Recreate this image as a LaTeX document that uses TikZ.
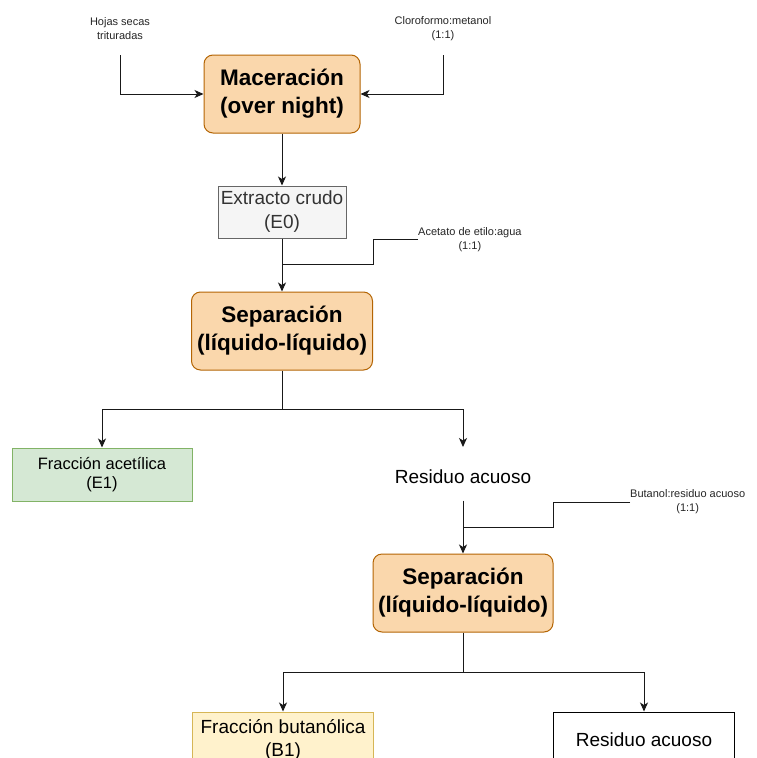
\documentclass[tikz,border=0pt]{standalone}
\usepackage{fontspec}
\setmainfont{Liberation Sans}
\usetikzlibrary{arrows.meta}
\definecolor{orfill}{HTML}{FAD7AC}
\definecolor{ordraw}{HTML}{B46504}
\definecolor{grfill}{HTML}{F5F5F5}
\definecolor{grdraw}{HTML}{666666}
\definecolor{grtext}{HTML}{333333}
\definecolor{gnfill}{HTML}{D5E8D4}
\definecolor{gndraw}{HTML}{82B366}
\definecolor{yefill}{HTML}{FFF2CC}
\definecolor{yedraw}{HTML}{D6B656}
\tikzset{
  proc/.style={draw=ordraw, fill=orfill, rounded corners=9pt, line width=1pt,
    minimum width=156pt, minimum height=78pt, align=center, inner sep=0pt,
    font=\fontsize{22.5}{28}\selectfont\bfseries},
  plainbox/.style={line width=1pt, align=center, inner sep=0pt},
  small/.style={align=center, inner sep=0pt, font=\fontsize{11}{14}\selectfont, text=black!85},
  conn/.style={line width=1pt, draw=black!90},
  arr/.style={conn, -{Stealth[length=9pt,width=8pt,inset=2.5pt]}},
}
\begin{document}
\begin{tikzpicture}[x=1pt,y=-1pt]
\clip (0,0) rectangle (757,758);
\fill[white] (0,0) rectangle (757,758);

% inputs
\node[small] (hojas) at (120,29) {Hojas secas\\trituradas};
\node[small] (cloro) at (443,29) {Cloroformo:metanol\\(1:1)};
\coordinate (hojasA) at (120,55);
\coordinate (cloroA) at (443,55);

\node[proc] (mac) at (282,94) {Maceración\\(over night)};

\node[plainbox, draw=grdraw, fill=grfill, text=grtext, minimum width=128pt, minimum height=52pt,
  font=\fontsize{19}{24}\selectfont] (ext) at (282,212) {Extracto crudo\\(E0)};

\node[small, anchor=west] (acet) at (418,239.5) {Acetato de etilo:agua\\(1:1)};

\node[proc, minimum width=181pt] (sep1) at (282,331) {Separación\\(líquido-líquido)};

\node[plainbox, draw=gndraw, fill=gnfill, minimum width=180pt, minimum height=53pt,
  font=\fontsize{16.5}{19}\selectfont] (facet) at (102,474.5) {Fracción acetílica\\(E1)};

\node[plainbox, font=\fontsize{19}{23}\selectfont, minimum height=46pt] (res1) at (463,477) {Residuo acuoso};

\node[small, anchor=west] (buta) at (630,502) {Butanol:residuo acuoso\\(1:1)};

\node[proc, minimum width=180pt] (sep2) at (463,593) {Separación\\(líquido-líquido)};

\node[plainbox, draw=yedraw, fill=yefill, minimum width=181pt, minimum height=55pt,
  font=\fontsize{19}{23}\selectfont] (fbut) at (283,739.5) {Fracción butanólica\\(B1)};

\node[plainbox, draw=black, fill=white, minimum width=181pt, minimum height=55pt,
  font=\fontsize{19}{23}\selectfont] (res2) at (644,739.5) {Residuo acuoso};

% connectors
\draw[arr] (hojasA) |- (mac.west);
\draw[arr] (cloroA) |- (mac.east);
\draw[arr] (mac.south) -- (ext.north);
\draw[arr] (ext.south) -- (sep1.north);
\coordinate (acJ) at (282,264);
\draw[conn] (acet.west) -- (373,239.5) -- (373,264) -- (acJ);

\coordinate (sp1) at (282,409);
\draw[conn] (sep1.south) -- (sp1);
\draw[arr] (sp1) -| (facet.north);
\draw[arr] (sp1) -| (463,447);

\draw[arr] (res1.south) -- (sep2.north);
\coordinate (buJ) at (463,527);
\draw[conn] (buta.west) -- (553,502) -- (553,527) -- (buJ);

\coordinate (sp2) at (463,672);
\draw[conn] (sep2.south) -- (sp2);
\draw[arr] (sp2) -| (fbut.north);
\draw[arr] (sp2) -| (res2.north);
\end{tikzpicture}
\end{document}
